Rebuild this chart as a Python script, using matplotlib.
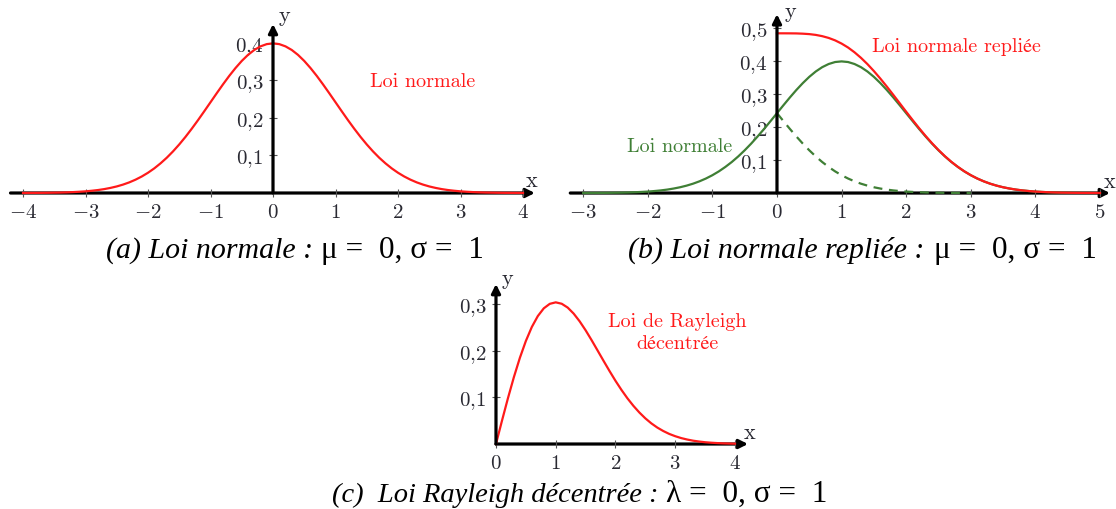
import matplotlib
matplotlib.use("Agg")
import matplotlib.pyplot as plt

plt.rcParams['mathtext.fontset'] = 'cm'

W, H = 1116, 510

# values read off the curves, sampled every 0.1 on x
# (a) loi normale, x = -4 .. 4
xa = [i / 10 for i in range(-40, 41)]
ya = [0.0001, 0.0002, 0.0003, 0.0004, 0.0006, 0.0009, 0.0012, 0.0017, 0.0024, 0.0033,
      0.0044, 0.0060, 0.0079, 0.0104, 0.0136, 0.0175, 0.0224, 0.0283, 0.0355, 0.0440,
      0.0540, 0.0656, 0.0790, 0.0940, 0.1109, 0.1295, 0.1497, 0.1714, 0.1942, 0.2179,
      0.2420, 0.2661, 0.2897, 0.3123, 0.3332, 0.3521, 0.3683, 0.3814, 0.3910, 0.3970,
      0.3989,
      0.3970, 0.3910, 0.3814, 0.3683, 0.3521, 0.3332, 0.3123, 0.2897, 0.2661, 0.2420,
      0.2179, 0.1942, 0.1714, 0.1497, 0.1295, 0.1109, 0.0940, 0.0790, 0.0656, 0.0540,
      0.0440, 0.0355, 0.0283, 0.0224, 0.0175, 0.0136, 0.0104, 0.0079, 0.0060, 0.0044,
      0.0033, 0.0024, 0.0017, 0.0012, 0.0009, 0.0006, 0.0004, 0.0003, 0.0002, 0.0001]

# (b) loi normale (verte), x = -3 .. 5
xb_norm = [i / 10 for i in range(-30, 51)]
yb_norm = list(ya)
# (b) loi normale repliee (rouge), x = 0 .. 5
xb_fold = [i / 10 for i in range(0, 51)]
yb_fold = [0.4840, 0.4840, 0.4839, 0.4837, 0.4829, 0.4816, 0.4792, 0.4754, 0.4700, 0.4626,
           0.4529, 0.4410, 0.4265, 0.4097, 0.3907, 0.3696, 0.3468, 0.3227, 0.2976, 0.2721,
           0.2464, 0.2212, 0.1966, 0.1731, 0.1509, 0.1304, 0.1115, 0.0944, 0.0793, 0.0658,
           0.0541, 0.0440, 0.0355, 0.0283, 0.0224, 0.0175, 0.0136, 0.0104, 0.0079, 0.0060,
           0.0044, 0.0033, 0.0024, 0.0017, 0.0012, 0.0009, 0.0006, 0.0004, 0.0003, 0.0002,
           0.0001]
# (b) partie repliee (pointilles), x = 0 .. 3
xb_mirror = [i / 10 for i in range(0, 31)]
yb_mirror = [0.2420, 0.2179, 0.1942, 0.1714, 0.1497, 0.1295, 0.1109, 0.0940, 0.0790, 0.0656,
             0.0540, 0.0440, 0.0355, 0.0283, 0.0224, 0.0175, 0.0136, 0.0104, 0.0079, 0.0060,
             0.0044, 0.0033, 0.0024, 0.0017, 0.0012, 0.0009, 0.0006, 0.0004, 0.0003, 0.0002,
             0.0001]

# (c) rayleigh decentree, x = 0 .. 4
xc = [i / 10 for i in range(0, 41)]
yc = [0.0000, 0.0498, 0.0980, 0.1434, 0.1846, 0.2206, 0.2506, 0.2739, 0.2905, 0.3001,
      0.3033, 0.3003, 0.2921, 0.2792, 0.2627, 0.2435, 0.2224, 0.2003, 0.1781, 0.1563,
      0.1353, 0.1158, 0.0978, 0.0817, 0.0674, 0.0549, 0.0442, 0.0352, 0.0278, 0.0216,
      0.0167, 0.0127, 0.0096, 0.0071, 0.0053, 0.0038, 0.0028, 0.0020, 0.0014, 0.0010,
      0.0007]

xticks_a = [-4, -3, -2, -1, 0, 1, 2, 3, 4]
yticks_a = [0.1, 0.2, 0.3, 0.4]
xticks_b = [-3, -2, -1, 0, 1, 2, 3, 4, 5]
yticks_b = [0.1, 0.2, 0.3, 0.4, 0.5]
xticks_c = [0, 1, 2, 3, 4]
yticks_c = [0.1, 0.2, 0.3]

RED = '#ff1a1a'
GREEN = '#3f7f35'
LABEL_FONT = ['cmr10', 'STIXGeneral', 'DejaVu Serif']

fig = plt.figure(figsize=(W / 100, H / 100), dpi=100)


def fx(x):
    return x / W


def fy(y):
    return 1 - y / H


def make_ax(left, top, right, bottom, xlim, ylim):
    ax = fig.add_axes([fx(left), fy(bottom), (right - left) / W, (bottom - top) / H])
    ax.set_xlim(xlim)
    ax.set_ylim(ylim)
    ax.patch.set_visible(False)
    for s in ['top', 'right']:
        ax.spines[s].set_visible(False)
    ax.spines['left'].set_position(('data', 0))
    ax.spines['bottom'].set_position(('data', 0))
    ax.spines['left'].set_visible(False)
    ax.spines['bottom'].set_visible(False)
    ax.tick_params(direction='inout', length=6, width=0.8, color='#555555',
                   labelsize=15, labelcolor='#2a2a33')
    ax.tick_params(axis='x', pad=3)
    ax.tick_params(axis='y', pad=4)
    return ax


def set_ticks(ax, xt, yt):
    ax.set_xticks(xt)
    ax.set_xticklabels([r'$%d$' % v for v in xt])
    ax.set_yticks(yt)
    ax.set_yticklabels([r'$0{,}%d$' % round(v * 10) for v in yt])


def arrows(ax, x0, x1, y1, xlabel_pos, ylabel_pos):
    ap = dict(arrowstyle='-|>', lw=2.3, color='black', mutation_scale=13, shrinkA=0, shrinkB=0)
    ax.annotate('', xy=(x1, 0), xytext=(x0, 0), arrowprops=ap, zorder=1, annotation_clip=False)
    ax.annotate('', xy=(0, y1), xytext=(0, 0), arrowprops=ap, zorder=4, annotation_clip=False)
    ax.text(*xlabel_pos, r'$\mathrm{x}$', fontsize=16, color='#2a2a33', ha='center', va='center')
    ax.text(*ylabel_pos, r'$\mathrm{y}$', fontsize=16, color='#2a2a33', ha='center', va='center')


# panel (a)
ax = make_ax(0, 0, 545, 230, (-4.368, 4.352), (-0.096, 0.5173))
set_ticks(ax, xticks_a, yticks_a)
arrows(ax, -4.2, 4.19, 0.4507, (4.14, 0.035), (0.19, 0.469))
ax.plot(xa, ya, color=RED, lw=1.6, zorder=2)
ax.text(2.4, 0.299, 'Loi normale', color=RED, fontsize=14.5, family=LABEL_FONT, ha='center', va='center')

# panel (b)
ax = make_ax(560, 0, 1116, 230, (-3.359, 5.248), (-0.109, 0.588))
set_ticks(ax, xticks_b, yticks_b)
arrows(ax, -3.2, 5.155, 0.542, (5.155, 0.036), (0.217, 0.545))
ax.plot(xb_norm, yb_norm, color=GREEN, lw=1.6, zorder=2)
ax.plot(xb_mirror, yb_mirror, color=GREEN, lw=1.6, ls=(0, (4, 3)), zorder=2)
ax.plot(xb_fold, yb_fold, color=RED, lw=1.6, zorder=3)
ax.text(2.78, 0.445, 'Loi normale repliée', color=RED, fontsize=14.5, family=LABEL_FONT,
        ha='center', va='center')
ax.text(-1.51, 0.142, 'Loi normale', color=GREEN, fontsize=14.5, family=LABEL_FONT,
        ha='center', va='center')

# panel (c)
ax = make_ax(440, 265, 800, 475, (-0.937, 5.088), (-0.0642, 0.3854))
set_ticks(ax, xticks_c, yticks_c)
arrows(ax, 0, 4.218, 0.3426, (4.25, 0.0257), (0.2, 0.351))
ax.plot(xc, yc, color=RED, lw=1.6, zorder=2)
ax.text(3.03, 0.24, 'Loi de Rayleigh\ndécentrée', color=RED, fontsize=14.5, family=LABEL_FONT,
        ha='center', va='center', linespacing=1.25)

# captions
CAP_IT = 21.5
CAP_RM = 22.5
fig.text(fx(313), fy(258), '(a) Loi normale :', fontsize=CAP_IT, family='Liberation Serif',
         style='italic', ha='right', va='baseline')
fig.text(fx(321), fy(258), 'μ =  0, σ =  1', fontsize=CAP_RM, family='Liberation Serif',
         ha='left', va='baseline')
fig.text(fx(924), fy(258), '(b) Loi normale repliée :', fontsize=CAP_IT, family='Liberation Serif',
         style='italic', ha='right', va='baseline')
fig.text(fx(934), fy(258), 'μ =  0, σ =  1', fontsize=CAP_RM, family='Liberation Serif',
         ha='left', va='baseline')
fig.text(fx(658), fy(502), '(c)  Loi Rayleigh décentrée :', fontsize=CAP_IT - 1, family='Liberation Serif',
         style='italic', ha='right', va='baseline')
fig.text(fx(666), fy(502), 'λ =  0, σ =  1', fontsize=CAP_RM, family='Liberation Serif',
         ha='left', va='baseline')

fig.savefig('out.png', dpi=100)
